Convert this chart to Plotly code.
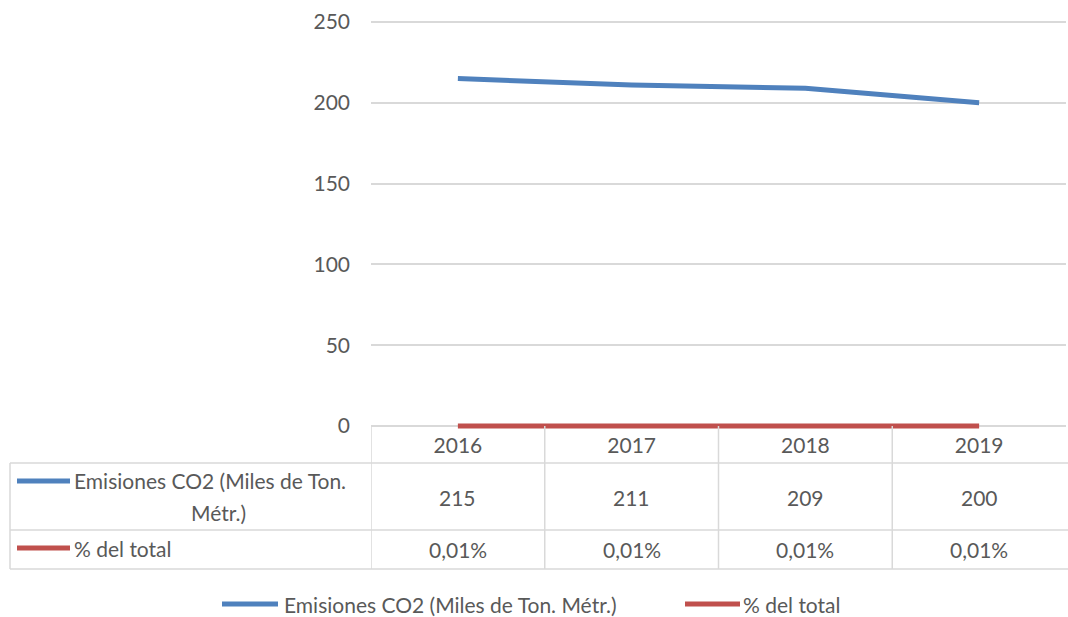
import plotly.graph_objects as go

# ---- data ----
years = ["2016", "2017", "2018", "2019"]
emisiones = [215, 211, 209, 200]
pct_total = [0.0001, 0.0001, 0.0001, 0.0001]
series_names = ["Emisiones CO2 (Miles de Ton. Métr.)", "% del total"]
y_ticks = [0, 50, 100, 150, 200, 250]

W, H = 1068, 617
TXT = "#595959"
GRID = "#D9D9D9"
BLUE = "#4F81BD"
RED = "#C0504D"
FONT = "Lato"
FS = 21


def px(x):
    return x / W


def py(y):
    return (H - y) / H


# plot area pixel geometry
x_left, x_right = 371, 1066
y_250, y_zero = 22, 426
ymin, ymax = -3, 252
unit = (y_zero - y_250) / 250.0
y_bottom = y_zero - ymin * unit
y_top = y_zero - ymax * unit

fig = go.Figure()
fig.add_trace(go.Scatter(x=list(range(len(years))), y=emisiones, mode="lines",
                         name=series_names[0], line=dict(color=BLUE, width=5),
                         hoverinfo="skip", showlegend=False))
fig.add_trace(go.Scatter(x=list(range(len(years))), y=pct_total, mode="lines",
                         name=series_names[1], line=dict(color=RED, width=5),
                         hoverinfo="skip", showlegend=False))

shapes = []
# table horizontal lines
for yy in [463, 530, 569]:
    shapes.append(dict(type="line", xref="paper", yref="paper", x0=px(10), x1=1,
                       y0=py(yy), y1=py(yy), line=dict(color=GRID, width=1.5)))
# left border of table
shapes.append(dict(type="line", xref="paper", yref="paper", x0=px(10), x1=px(10),
                   y0=py(463), y1=py(569), line=dict(color=GRID, width=1.5)))
# category boundaries
for i in range(len(years)):
    shapes.append(dict(type="line", xref="x", yref="paper", x0=i - 0.5, x1=i - 0.5,
                       y0=py(y_zero), y1=py(569), line=dict(color=GRID, width=1.5)))
# legend keys inside table
row_key_y = [481, 548]
for c, yy in zip([BLUE, RED], row_key_y):
    shapes.append(dict(type="line", xref="paper", yref="paper", x0=px(17), x1=px(70),
                       y0=py(yy), y1=py(yy), line=dict(color=c, width=5)))
# bottom legend keys
leg_keys = [(222, 278), (685, 740)]
for c, (a, b) in zip([BLUE, RED], leg_keys):
    shapes.append(dict(type="line", xref="paper", yref="paper", x0=px(a), x1=px(b),
                       y0=py(604), y1=py(604), line=dict(color=c, width=5)))

annotations = []
def txt(x, y, s, anchor="left"):
    annotations.append(dict(x=px(x), y=py(y), xref="paper", yref="paper",
                            text=s, showarrow=False, xanchor=anchor, yanchor="middle",
                            font=dict(family=FONT, size=FS, color=TXT)))

# row headers
txt(72, 481, "Emisiones CO2 (Miles de Ton.")
txt(218, 512, "Métr.)", "center")
txt(72, 548, series_names[1])
# bottom legend labels
txt(282, 604, series_names[0])
txt(741, 604, series_names[1])

# table values
for i, v in enumerate(emisiones):
    annotations.append(dict(x=i, y=py(497), xref="x", yref="paper", text=str(v),
                            showarrow=False, xanchor="center", yanchor="middle",
                            font=dict(family=FONT, size=FS, color=TXT)))
for i, v in enumerate(pct_total):
    t = f"{v*100:.2f}%".replace(".", ",")
    annotations.append(dict(x=i, y=py(549), xref="x", yref="paper", text=t,
                            showarrow=False, xanchor="center", yanchor="middle",
                            font=dict(family=FONT, size=FS, color=TXT)))

fig.update_layout(
    template="none",
    width=W, height=H, autosize=False,
    margin=dict(l=0, r=0, t=0, b=0, pad=0),
    paper_bgcolor="white", plot_bgcolor="white",
    font=dict(family=FONT, size=FS, color=TXT),
    shapes=shapes, annotations=annotations,
    showlegend=False,
    xaxis=dict(domain=[px(x_left), px(x_right)], range=[-0.5, len(years) - 0.5],
               autorange=False, automargin=False,
               tickmode="array", tickvals=list(range(len(years))), ticktext=years,
               showgrid=False, zeroline=False, showline=False, ticks="",
               ticklabelstandoff=0,
               tickfont=dict(family=FONT, size=FS, color=TXT), fixedrange=True),
    yaxis=dict(domain=[py(y_bottom), py(y_top)], range=[ymin, ymax],
               autorange=False, automargin=False,
               tickmode="array", tickvals=y_ticks,
               showgrid=True, gridcolor=GRID, gridwidth=1.5,
               zeroline=True, zerolinecolor=GRID, zerolinewidth=1.5,
               showline=False, ticks="", ticklabelstandoff=20,
               tickfont=dict(family=FONT, size=FS, color=TXT), fixedrange=True),
)

fig.write_html("out.html", config={"displayModeBar": False},
               post_script="document.body.style.margin='0';document.body.style.overflow='hidden';")
